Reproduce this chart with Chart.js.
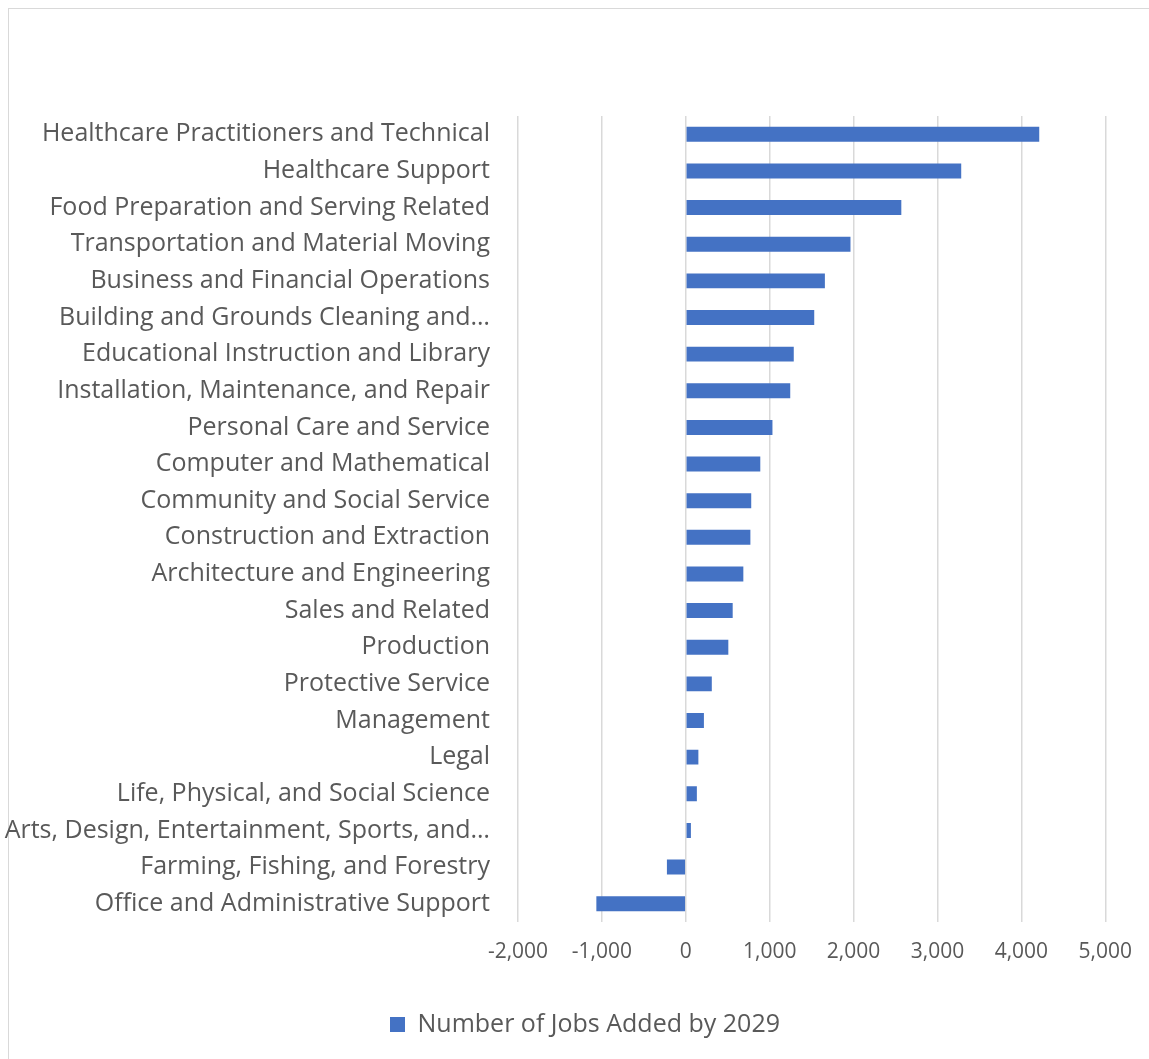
<!DOCTYPE html>
<html>
<head>
<meta charset="utf-8">
<script src="https://cdn.jsdelivr.net/npm/chart.js@4.4.1/dist/chart.umd.min.js"></script>
<style>
  html, body { margin: 0; padding: 0; background: #fff; overflow: hidden; }
  #frame {
    position: absolute; left: 8px; top: 8px;
    width: 1160px; height: 1070px;
    border: 1.5px solid #d9d9d9;
  }
  #wrap { position: absolute; left: 0; top: 0; width: 1149px; height: 1059px; }
</style>
</head>
<body>
<div id="frame"></div>
<div id="wrap"><canvas id="grafico"></canvas></div>
<script>
// ocupacoes, da que mais cresce para a que mais perde
const categorias = [
  'Healthcare Practitioners and Technical',
  'Healthcare Support',
  'Food Preparation and Serving Related',
  'Transportation and Material Moving',
  'Business and Financial Operations',
  'Building and Grounds Cleaning and…',
  'Educational Instruction and Library',
  'Installation, Maintenance, and Repair',
  'Personal Care and Service',
  'Computer and Mathematical',
  'Community and Social Service',
  'Construction and Extraction',
  'Architecture and Engineering',
  'Sales and Related',
  'Production',
  'Protective Service',
  'Management',
  'Legal',
  'Life, Physical, and Social Science',
  'Arts, Design, Entertainment, Sports, and…',
  'Farming, Fishing, and Forestry',
  'Office and Administrative Support'
];

const empregosAdicionados = [
  4213, 3283, 2569, 1963, 1658, 1531, 1287, 1245, 1033, 888, 780,
  770, 686, 559, 507, 310, 216, 150, 132, 61, -225, -1066
];

const nomeSerie = 'Number of Jobs Added by 2029';
const eixoMin = -2000;
const eixoMax = 5000;
const passo = 1000;

const corTexto = '#595959';
const fonte = "'Open Sans', 'Liberation Sans', sans-serif";

// empurra a legenda um pouco para a direita depois do layout
const deslocaLegenda = {
  id: 'deslocaLegenda',
  afterLayout(chart) {
    if (chart.legend) {
      chart.legend.left += 32;
      chart.legend.right += 32;
    }
  }
};

var ctx = document.getElementById('grafico').getContext('2d');
var grafico = new Chart(ctx, {
  type: 'bar',
  data: {
    labels: categorias,
    datasets: [{
      label: nomeSerie,
      data: empregosAdicionados,
      backgroundColor: '#4472C4',
      borderWidth: 0,
      barPercentage: 0.8,
      categoryPercentage: 0.51
    }]
  },
  plugins: [deslocaLegenda],
  options: {
    indexAxis: 'y',
    responsive: true,
    maintainAspectRatio: false,
    animation: false,
    layout: { padding: { top: 116, right: 43, bottom: 12, left: 0 } },
    plugins: {
      tooltip: { enabled: false },
      legend: {
        position: 'bottom',
        labels: {
          color: corTexto,
          font: { family: fonte, size: 25 },
          boxWidth: 15,
          boxHeight: 15,
          padding: 8
        }
      }
    },
    scales: {
      x: {
        min: eixoMin,
        max: eixoMax,
        afterFit: function (escala) { escala.height = 82; },
        grid: { color: '#d9d9d9', lineWidth: 1.5, drawTicks: false },
        border: { display: false },
        ticks: {
          stepSize: passo,
          padding: 17,
          color: corTexto,
          font: { family: fonte, size: 21 },
          callback: function (v) { return v.toLocaleString('en-US'); }
        }
      },
      y: {
        afterFit: function (escala) { escala.width = 518; },
        grid: { display: false, drawTicks: false },
        border: { display: false },
        ticks: {
          padding: 28,
          autoSkip: false,
          color: corTexto,
          font: { family: fonte, size: 25 }
        }
      }
    }
  }
});
</script>
</body>
</html>
